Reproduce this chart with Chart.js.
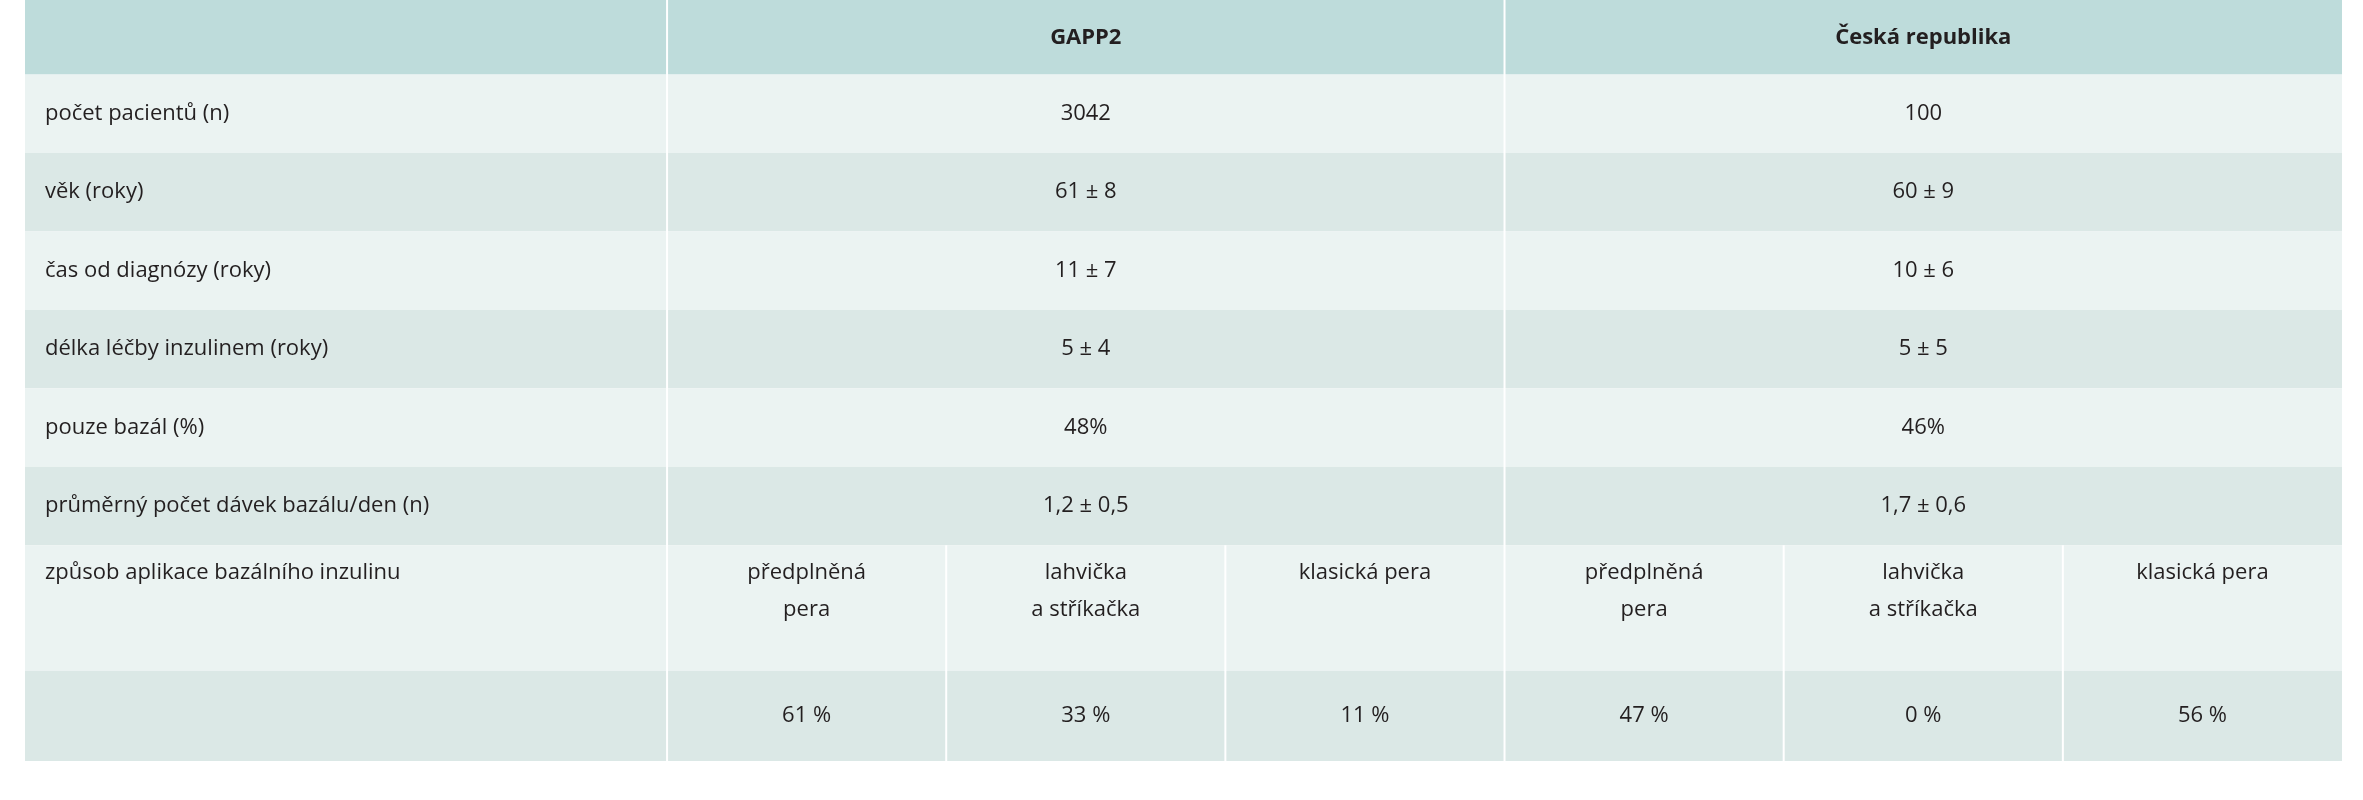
<!DOCTYPE html>
<html><head><meta charset="utf-8">
<script src="https://cdn.jsdelivr.net/npm/chart.js@4/dist/chart.umd.min.js"></script>
<style>html,body{margin:0;padding:0;background:#fff}#w{width:2363px;height:800px}</style>
</head><body><div id="w"><canvas id="c"></canvas></div>
<script>
const groupHeaders = ["GAPP2", "Česká republika"];
const rowLabels = ["počet pacientů (n)", "věk (roky)", "čas od diagnózy (roky)", "délka léčby inzulinem (roky)", "pouze bazál (%)", "průměrný počet dávek bazálu/den (n)", "způsob aplikace bazálního inzulinu", ""];
const gappValues = ["3042", "61 ± 8", "11 ± 7", "5 ± 4", "48%", "1,2 ± 0,5"];
const czValues = ["100", "60 ± 9", "10 ± 6", "5 ± 5", "46%", "1,7 ± 0,6"];
const methodLabels = [["předplněná", "pera"], ["lahvička", "a stříkačka"], ["klasická pera"]];
const gappMethod = ["61 %", "33 %", "11 %"];
const czMethod = ["47 %", "0 %", "56 %"];
const rowHeights = [0.95, 1, 1, 1, 1, 1, 1, 1.6, 1.15];
const labelColWidth = 2.3;

const FONT = '"Open Sans", sans-serif';
const total = rowHeights.reduce((a, b) => a + b, 0);
const edges = [0]; rowHeights.forEach(h => edges.push(edges[edges.length - 1] + h));
const L = labelColWidth, XMAX = L + 6;

const tablePlugin = {
  id: 'table',
  beforeDatasetsDraw(chart) {
    const ctx = chart.ctx, x = chart.scales.x, y = chart.scales.y;
    const X = v => x.getPixelForValue(v), Y = v => y.getPixelForValue(v);
    const cols = ['#bedcdb'];
    for (let i = 0; i < 8; i++) cols.push(i % 2 === 0 ? '#ebf3f2' : '#dbe8e6');
    ctx.save();
    for (let r = 0; r < 9; r++) {
      ctx.fillStyle = cols[r];
      ctx.fillRect(X(0), Y(edges[r]), X(XMAX) - X(0), Y(edges[r + 1]) - Y(edges[r]));
    }
    ctx.strokeStyle = '#ffffff'; ctx.lineWidth = 2;
    const vline = (v, a, b) => { ctx.beginPath(); ctx.moveTo(X(v), Y(a)); ctx.lineTo(X(v), Y(b)); ctx.stroke(); };
    vline(L, 0, total); vline(L + 3, 0, total);
    [1, 2, 4, 5].forEach(v => vline(L + v, edges[7], total));
    ctx.fillStyle = '#231f20'; ctx.textBaseline = 'middle';
    ctx.font = 'bold 22px ' + FONT; ctx.textAlign = 'center';
    groupHeaders.forEach((g, i) => ctx.fillText(g, X(L + 1.5 + 3 * i), Y(edges[0] + rowHeights[0] / 2)));
    ctx.font = '22px ' + FONT;
    rowLabels.forEach((l, i) => {
      ctx.textAlign = 'left';
      const r = i + 1;
      const cy = r === 7 ? Y(edges[7]) + 27 : Y(edges[r] + rowHeights[r] / 2);
      ctx.fillText(l, X(0) + 20, cy);
    });
    ctx.textAlign = 'center';
    for (let i = 0; i < 6; i++) {
      const cy = Y(edges[i + 1] + rowHeights[i + 1] / 2);
      ctx.fillText(gappValues[i], X(L + 1.5), cy);
      ctx.fillText(czValues[i], X(L + 4.5), cy);
    }
    for (let g = 0; g < 2; g++) {
      methodLabels.forEach((lines, j) => {
        lines.forEach((t, k) => ctx.fillText(t, X(L + 0.5 + 3 * g + j), Y(edges[7]) + 27 + k * 37));
      });
      const vals = g === 0 ? gappMethod : czMethod;
      vals.forEach((v, j) => ctx.fillText(v, X(L + 0.5 + 3 * g + j), Y(edges[8] + rowHeights[8] / 2)));
    }
    ctx.restore();
  }
};

new Chart(document.getElementById('c'), {
  type: 'scatter',
  data: { datasets: [{ data: [], pointRadius: 0 }] },
  options: {
    responsive: true, maintainAspectRatio: false, animation: false,
    layout: { padding: { left: 25, right: 21, top: 0, bottom: 39 } },
    plugins: { legend: { display: false }, tooltip: { enabled: false } },
    scales: {
      x: { type: 'linear', min: 0, max: XMAX, display: false },
      y: { type: 'linear', min: 0, max: total, reverse: true, display: false }
    }
  },
  plugins: [tablePlugin]
});
</script></body></html>
